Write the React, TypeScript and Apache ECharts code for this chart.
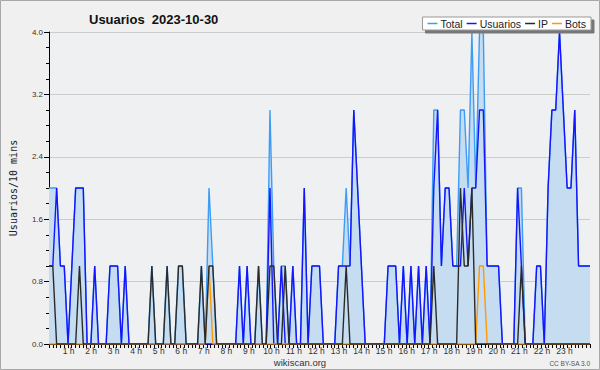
import React, { useEffect, useRef } from 'react';
import * as echarts from 'echarts';

// 10-minute slots of 2023-10-30 (143 points, one row per hour)
const slotLabels: string[] = Array.from({ length: 143 }, (_, i) =>
  `${String(Math.floor(i / 6)).padStart(2, '0')}:${String((i % 6) * 10).padStart(2, '0')}`
);

const hourLabels = [
  '1 h', '2 h', '3 h', '4 h', '5 h', '6 h', '7 h', '8 h', '9 h', '10 h', '11 h', '12 h',
  '13 h', '14 h', '15 h', '16 h', '17 h', '18 h', '19 h', '20 h', '21 h', '22 h', '23 h',
];

const totalValues = [
  2, 2, 2, 1, 1, 0,
  1, 2, 2, 2, 0, 0,
  1, 0, 0, 0, 1, 1,
  1, 0, 1, 0, 0, 0,
  0, 0, 0, 1, 0, 0,
  0, 1, 0, 0, 1, 1,
  0, 0, 0, 0, 1, 0,
  2, 1, 0, 0, 0, 0,
  0, 0, 1, 0, 1, 0,
  0, 1, 0, 0, 3, 1,
  0, 1, 1, 0, 1, 0,
  0, 2, 0, 1, 1, 1,
  0, 0, 0, 0, 1, 1,
  2, 1, 3, 2, 1, 0,
  0, 0, 0, 0, 0, 1,
  1, 1, 0, 1, 0, 1,
  0, 1, 0, 1, 0, 3,
  3, 1, 2, 2, 1, 1,
  3, 3, 2, 4, 2, 4,
  4, 1, 1, 1, 1, 0,
  0, 0, 0, 2, 2, 0,
  0, 0, 1, 1, 0, 2,
  3, 3, 4, 3, 2, 2,
  3, 1, 1, 1, 1,
];

const usuariosValues = [
  1, 1, 2, 1, 1, 0,
  1, 2, 2, 2, 0, 0,
  1, 0, 0, 0, 1, 1,
  1, 0, 1, 0, 0, 0,
  0, 0, 0, 0, 0, 0,
  0, 0, 0, 0, 0, 0,
  0, 0, 0, 0, 0, 0,
  0, 0, 0, 0, 0, 0,
  0, 0, 1, 0, 1, 0,
  0, 0, 0, 0, 2, 0,
  0, 1, 0, 0, 1, 0,
  0, 2, 0, 1, 1, 1,
  0, 0, 0, 0, 1, 1,
  1, 1, 3, 2, 1, 0,
  0, 0, 0, 0, 0, 1,
  1, 1, 0, 1, 0, 1,
  0, 1, 0, 1, 0, 2,
  3, 1, 2, 2, 1, 1,
  1, 2, 1, 2, 2, 3,
  3, 1, 1, 1, 1, 0,
  0, 0, 0, 2, 1, 0,
  0, 0, 1, 1, 0, 2,
  3, 3, 4, 3, 2, 2,
  3, 1, 1, 1, 1,
];

const ipValues = [
  1, 1, 0, 0, 0, 0,
  0, 0, 1, 0, 0, 0,
  0, 0, 0, 0, 0, 0,
  0, 0, 0, 0, 0, 0,
  0, 0, 0, 1, 0, 0,
  0, 1, 0, 0, 1, 1,
  0, 0, 0, 0, 1, 0,
  1, 1, 0, 0, 0, 0,
  0, 0, 0, 0, 0, 0,
  0, 1, 0, 0, 1, 1,
  0, 0, 1, 0, 0, 0,
  0, 0, 0, 0, 0, 0,
  0, 0, 0, 0, 0, 0,
  1, 0, 0, 0, 0, 0,
  0, 0, 0, 0, 0, 0,
  0, 0, 0, 0, 0, 0,
  0, 0, 0, 0, 0, 1,
  0, 0, 0, 0, 0, 0,
  2, 1, 1, 2, 0, 0,
  0, 0, 0, 0, 0, 0,
  0, 0, 0, 0, 1, 0,
  0, 0, 0, 0, 0, 0,
  0, 0, 0, 0, 0, 0,
  0, 0, 0, 0, 0,
];

const botsValues = [
  0, 0, 0, 0, 0, 0,
  0, 0, 0, 0, 0, 0,
  0, 0, 0, 0, 0, 0,
  0, 0, 0, 0, 0, 0,
  0, 0, 0, 0, 0, 0,
  0, 0, 0, 0, 0, 0,
  0, 0, 0, 0, 0, 0,
  1, 0, 0, 0, 0, 0,
  0, 0, 0, 0, 0, 0,
  0, 0, 0, 0, 0, 0,
  0, 0, 0, 0, 0, 0,
  0, 0, 0, 0, 0, 0,
  0, 0, 0, 0, 0, 0,
  0, 0, 0, 0, 0, 0,
  0, 0, 0, 0, 0, 0,
  0, 0, 0, 0, 0, 0,
  0, 0, 0, 0, 0, 0,
  0, 0, 0, 0, 0, 0,
  0, 0, 0, 0, 0, 1,
  1, 0, 0, 0, 0, 0,
  0, 0, 0, 0, 0, 0,
  0, 0, 0, 0, 0, 0,
  0, 0, 0, 0, 0, 0,
  0, 0, 0, 0, 0,
];

const FONT = 'Liberation Sans, Arial, sans-serif';

export default function App() {
  const ref = useRef<HTMLDivElement>(null);

  useEffect(() => {
    if (!ref.current) return;
    const chart = echarts.init(ref.current, undefined, { renderer: 'svg' });
    const line = (name: string, data: number[], color: string, extra: any = {}) => ({
      name,
      type: 'line',
      data,
      xAxisIndex: 0,
      yAxisIndex: 0,
      symbol: 'none',
      color,
      itemStyle: { color },
      lineStyle: { color, width: 1.4 },
      ...extra,
    });
    chart.setOption({
      animation: false,
      backgroundColor: '#f0f0f0',
      textStyle: { fontFamily: FONT },
      title: {
        text: 'Usuarios  2023-10-30',
        left: 84,
        top: 8,
        textStyle: { fontFamily: FONT, fontSize: 13, fontWeight: 'bold', color: '#111' },
      },
      legend: {
        data: ['Total', 'Usuarios', 'IP', 'Bots'],
        right: 9,
        top: 17,
        icon: 'rect',
        itemWidth: 10,
        itemHeight: 1.5,
        itemGap: 4,
        padding: [1, 5, 1, 5],
        backgroundColor: '#ffffff',
        borderColor: '#999',
        borderWidth: 1,
        shadowColor: '#777',
        shadowOffsetX: 3,
        shadowOffsetY: 3,
        shadowBlur: 0,
        textStyle: { fontFamily: FONT, fontSize: 10.5, color: '#222', padding: [0, 0, 0, -2] },
      },
      grid: {
        left: 47,
        right: 10,
        top: 32,
        bottom: 26,
        show: true,
        backgroundColor: '#eef0f2',
        borderWidth: 0,
      },
      xAxis: [
        {
          type: 'category',
          data: slotLabels,
          boundaryGap: false,
          show: false,
        },
        {
          type: 'value',
          min: 0,
          max: 144,
          interval: 1,
          position: 'bottom',
          axisLine: { show: true, lineStyle: { color: '#000', width: 1 } },
          axisTick: { show: true, length: 4, lineStyle: { color: '#000', width: 1 } },
          splitLine: { show: false },
          axisLabel: {
            show: true,
            margin: 2,
            fontSize: 8.5,
            color: '#333',
            fontFamily: FONT,
            padding: [0, 6, 0, 0],
            formatter: (v: number) => {
              const h = v / 6;
              return Number.isInteger(h) && h >= 1 && h <= 23 ? hourLabels[h - 1] : '';
            },
          },
        },
      ],
      yAxis: {
        type: 'value',
        min: 0,
        max: 4,
        interval: 0.8,
        name: 'Usuarios/10 mins',
        nameLocation: 'middle',
        nameGap: 31,
        nameTextStyle: { fontFamily: 'DejaVu Sans Mono', fontSize: 10, color: '#222' },
        axisLine: { show: true, lineStyle: { color: '#000', width: 1 } },
        axisTick: { show: true, length: 5, lineStyle: { color: '#000' } },
        minorTick: { show: true, splitNumber: 4, length: 3, lineStyle: { color: '#000' } },
        splitLine: { show: true, lineStyle: { color: '#cccccc', width: 1 } },
        axisLabel: {
          fontSize: 8,
          color: '#333',
          margin: 6,
          fontFamily: FONT,
          formatter: (v: number) => v.toFixed(1),
        },
      },
      series: [
        line('Total', totalValues, '#3d9cf5', {
          areaStyle: { color: '#c6dcf0', opacity: 1 },
          z: 2,
        }),
        line('Usuarios', usuariosValues, '#1414ff', { z: 3 }),
        line('Bots', botsValues, '#ff9900', { z: 4 }),
        line('IP', ipValues, '#2a2a2a', { z: 5 }),
      ],
      graphic: [
        {
          type: 'rect',
          shape: { x: 0.5, y: 0.5, width: 599, height: 369 },
          style: { fill: 'none', stroke: '#a8a8a8', lineWidth: 1 },
          silent: true,
        },
        {
          type: 'text',
          x: 300,
          y: 362,
          style: {
            text: 'wikiscan.org',
            fontFamily: FONT,
            fontSize: 9.5,
            fill: '#333',
            align: 'center',
            verticalAlign: 'middle',
          },
        },
        {
          type: 'text',
          x: 590,
          y: 363,
          style: {
            text: 'CC BY-SA 3.0',
            fontFamily: FONT,
            fontSize: 6.5,
            fill: '#555',
            align: 'right',
            verticalAlign: 'middle',
          },
        },
      ],
    });
    return () => chart.dispose();
  }, []);

  return (
    <div
      ref={ref}
      style={{ position: 'fixed', left: 0, top: 0, width: 600, height: 370 }}
    />
  );
}
